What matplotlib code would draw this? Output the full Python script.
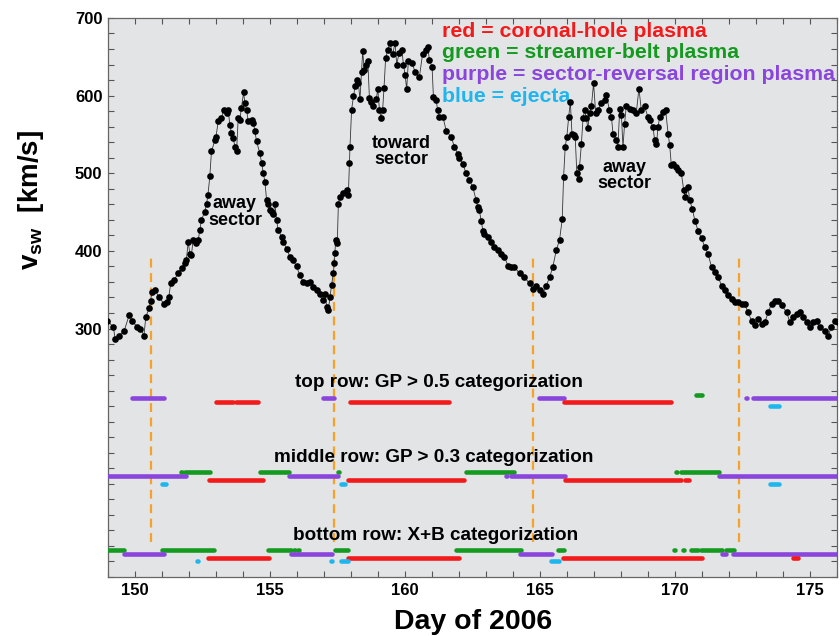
import matplotlib
matplotlib.use("Agg")
import matplotlib.pyplot as plt
from matplotlib.ticker import MultipleLocator, FixedLocator

plt.rcParams["font.family"] = ["Liberation Sans", "DejaVu Sans"]
plt.rcParams["font.weight"] = "bold"
plt.rcParams["mathtext.fontset"] = "custom"
plt.rcParams["mathtext.rm"] = "Liberation Sans:bold"
plt.rcParams["mathtext.bf"] = "Liberation Sans:bold"

RED = "#f21a1a"
GREEN = "#139a1f"
PURPLE = "#8a45dd"
BLUE = "#1fb6ee"
ORANGE = "#f6a229"
PANEL = "#e3e4e6"

# solar wind speed (day of 2006, km/s)
days = [
    148.97, 149.2, 149.26, 149.4, 149.6, 149.78, 149.9, 150.07, 150.2, 150.33,
    150.4, 150.52, 150.58, 150.62, 150.74, 150.89, 151.07, 151.2, 151.25, 151.32,
    151.45, 151.6, 151.75, 151.84, 151.9, 151.97, 152.03, 152.09, 152.15, 152.25,
    152.34, 152.4, 152.46, 152.58, 152.65, 152.7, 152.77, 152.83, 152.96, 153.0,
    153.08, 153.2, 153.29, 153.39, 153.45, 153.51, 153.57, 153.64, 153.7, 153.76,
    153.82, 153.88, 153.94, 154.02, 154.07, 154.13, 154.19, 154.32, 154.38, 154.44,
    154.5, 154.62, 154.69, 154.75, 154.81, 154.87, 154.93, 155.0, 155.06, 155.12,
    155.18, 155.24, 155.3, 155.43, 155.49, 155.61, 155.74, 155.86, 155.98, 156.1,
    156.23, 156.35, 156.48, 156.6, 156.73, 156.85, 156.97, 157.03, 157.1, 157.16,
    157.22, 157.28, 157.34, 157.38, 157.4, 157.43, 157.49, 157.53, 157.59, 157.71,
    157.84, 157.9, 157.94, 157.96, 158.02, 158.09, 158.15, 158.21, 158.27, 158.33,
    158.39, 158.43, 158.49, 158.55, 158.62, 158.68, 158.74, 158.83, 158.93, 158.99,
    159.05, 159.11, 159.17, 159.22, 159.28, 159.36, 159.44, 159.54, 159.63, 159.69,
    159.78, 159.88, 159.94, 160.0, 160.06, 160.12, 160.25, 160.37, 160.53, 160.65,
    160.78, 160.84, 160.9, 161.0, 161.05, 161.15, 161.21, 161.27, 161.4, 161.52,
    161.7, 161.83, 161.95, 162.01, 162.14, 162.26, 162.38, 162.51, 162.63, 162.69,
    162.75, 162.82, 162.88, 162.94, 163.06, 163.19, 163.31, 163.43, 163.56, 163.68,
    163.81, 163.93, 164.05, 164.24, 164.42, 164.61, 164.73, 164.86, 164.98, 165.1,
    165.23, 165.35, 165.47, 165.6, 165.72, 165.82, 165.87, 165.93, 165.99, 166.06,
    166.12, 166.18, 166.24, 166.3, 166.36, 166.43, 166.46, 166.53, 166.59, 166.65,
    166.71, 166.77, 166.83, 166.9, 166.98, 167.06, 167.14, 167.27, 167.39, 167.45,
    167.57, 167.64, 167.7, 167.82, 167.88, 167.95, 168.01, 168.07, 168.13, 168.19,
    168.32, 168.44, 168.56, 168.66, 168.75, 168.87, 168.99, 169.06, 169.18, 169.24,
    169.31, 169.37, 169.43, 169.55, 169.65, 169.74, 169.8, 169.86, 169.92, 170.02,
    170.11, 170.23, 170.32, 170.38, 170.48, 170.54, 170.64, 170.73, 170.85, 170.98,
    171.1, 171.22, 171.35, 171.47, 171.6, 171.72, 171.84, 171.96, 172.09, 172.21,
    172.33, 172.46, 172.58, 172.7, 172.83, 172.95, 173.07, 173.2, 173.32, 173.45,
    173.57, 173.69, 173.82, 173.94, 174.13, 174.25, 174.37, 174.5, 174.62, 174.74,
    174.87, 174.99, 175.11, 175.24, 175.36, 175.55, 175.67, 175.79, 175.92, 176.04,
]
speed = [
    310, 302, 287, 291, 297, 317, 310, 302, 300, 291,
    315, 326, 336, 347, 350, 340, 332, 334, 340, 358,
    362, 372, 378, 384, 388, 412, 396, 395, 414, 410,
    414, 427, 440, 450, 461, 472, 496, 528, 543, 547,
    567, 571, 582, 577, 582, 562, 552, 545, 534, 528,
    571, 569, 584, 604, 590, 582, 567, 569, 565, 554,
    541, 526, 513, 500, 489, 466, 461, 453, 450, 448,
    461, 440, 427, 418, 412, 403, 392, 388, 380, 369,
    360, 358, 360, 354, 349, 345, 337, 345, 328, 324,
    341, 356, 371, 384, 397, 414, 410, 461, 470, 474,
    478, 472, 513, 534, 582, 599, 612, 620, 616, 595,
    631, 657, 633, 640, 644, 597, 592, 586, 595, 608,
    582, 571, 582, 610, 648, 659, 668, 653, 668, 640,
    655, 659, 640, 627, 608, 644, 642, 631, 624, 654,
    659, 663, 646, 637, 598, 594, 581, 573, 573, 555,
    547, 534, 525, 519, 512, 500, 491, 482, 465, 457,
    452, 439, 426, 422, 418, 411, 405, 401, 396, 392,
    381, 379, 379, 371, 366, 358, 351, 355, 349, 345,
    355, 366, 379, 401, 414, 441, 495, 534, 547, 573,
    592, 551, 549, 547, 500, 493, 508, 538, 571, 581,
    571, 558, 577, 586, 616, 577, 581, 590, 594, 601,
    581, 573, 551, 543, 534, 583, 575, 534, 564, 586,
    583, 581, 577, 609, 581, 586, 573, 568, 560, 543,
    538, 560, 573, 579, 581, 551, 536, 510, 512, 508,
    504, 500, 478, 469, 482, 465, 454, 439, 426, 416,
    405, 396, 379, 373, 366, 355, 349, 343, 338, 334,
    334, 332, 331, 321, 310, 304, 312, 306, 308, 321,
    332, 336, 336, 330, 321, 308, 315, 319, 321, 315,
    308, 302, 308, 310, 302, 297, 291, 302, 310, 308,
]

# sector boundaries (dashed lines)
boundary_days = [150.6, 157.37, 164.75, 172.35]

# plasma categorization intervals (start day, end day)
top_green = [(170.79, 171.01)]
top_purple = [(149.9, 151.07), (156.95, 157.35), (164.95, 165.87),
              (172.62, 172.66), (172.9, 175.98)]
top_red = [(152.99, 153.61), (153.73, 154.54), (157.96, 161.64), (165.87, 169.86)]
top_blue = [(173.51, 173.86)]

mid_green = [(151.7, 151.74), (151.85, 152.77), (154.62, 155.71), (157.5, 157.54),
             (162.27, 162.31), (162.38, 164.05), (170.03, 170.07), (170.23, 171.63)]
mid_purple = [(148.94, 151.9), (155.69, 157.5), (163.72, 163.76), (163.93, 165.91),
              (171.63, 176.08)]
mid_red = [(152.74, 154.75), (157.87, 162.2), (165.91, 170.23), (170.36, 170.52)]
mid_blue = [(151.01, 151.16), (157.63, 157.79), (173.51, 173.86)]

bot_green = [(148.94, 149.59), (151.01, 152.93), (154.91, 155.77), (155.88, 155.92),
             (156.03, 156.07), (157.42, 157.87), (161.87, 164.3), (165.66, 165.87),
             (169.97, 170.01), (170.28, 170.32), (170.6, 170.85), (170.97, 171.75),
             (171.9, 172.17)]
bot_purple = [(149.59, 151.07), (155.77, 157.28), (164.24, 165.45), (171.72, 171.9),
              (172.15, 176.08)]
bot_red = [(152.72, 154.97), (157.87, 161.99), (165.85, 171.01), (174.37, 174.56)]
bot_blue = [(152.29, 152.33), (157.27, 157.31), (157.63, 157.87), (165.41, 165.7)]

rows = [
    (200, top_green, top_purple, top_red, top_blue),
    (100, mid_green, mid_purple, mid_red, mid_blue),
    (0, bot_green, bot_purple, bot_red, bot_blue),
]

fig = plt.figure(figsize=(8.4, 6.36), dpi=100)
ax = fig.add_axes([0.1286, 0.0928, 0.868, 0.879], facecolor=PANEL)

ax.plot(days, speed, color="#333333", lw=0.6, zorder=3)
ax.plot(days, speed, "o", color="black", ms=4.8, mec="none", zorder=4)

for x in boundary_days:
    ax.plot([x, x], [25, 395], color=ORANGE, lw=1.6, ls=(0, (4, 2.5)), zorder=2)

for base, green, purple, red, blue in rows:
    for segs, col, off in [(green, GREEN, 15), (purple, PURPLE, 10),
                           (red, RED, 5), (blue, BLUE, 0)]:
        starts = [s for s, e in segs]
        ends = [e for s, e in segs]
        ax.hlines([base + off] * len(segs), starts, ends, colors=col,
                  lw=3.3, capstyle="round", zorder=3)

# labels in the plot
legend_lines = [
    (676, "red = coronal-hole plasma", RED),
    (648, "green = streamer-belt plasma", GREEN),
    (620, "purple = sector-reversal region plasma", PURPLE),
    (592, "blue = ejecta", BLUE),
]
for yv, txt, col in legend_lines:
    ax.text(161.38, yv, txt, color=col, fontsize=15.3, fontweight="bold",
            va="baseline", clip_on=False)

ax.text(153.7, 450, "away\nsector", ha="center", va="center", fontsize=13,
        fontweight="bold", linespacing=0.95)
ax.text(159.86, 528, "toward\nsector", ha="center", va="center", fontsize=13,
        fontweight="bold", linespacing=0.95)
ax.text(168.13, 497, "away\nsector", ha="center", va="center", fontsize=13,
        fontweight="bold", linespacing=0.95)

ax.text(161.25, 231, "top row: GP > 0.5 categorization", ha="center", va="center",
        fontsize=13.6, fontweight="bold")
ax.text(161.05, 134, "middle row: GP > 0.3 categorization", ha="center", va="center",
        fontsize=13.6, fontweight="bold")
ax.text(161.12, 33, "bottom row: X+B categorization", ha="center", va="center",
        fontsize=13.6, fontweight="bold")

ax.set_xlim(149, 176)
ax.set_ylim(-20, 700)
ax.xaxis.set_major_locator(MultipleLocator(5))
ax.xaxis.set_minor_locator(MultipleLocator(1))
ax.yaxis.set_major_locator(FixedLocator([300, 400, 500, 600, 700]))
ax.yaxis.set_minor_locator(MultipleLocator(20))
ax.tick_params(which="both", direction="in", top=True, right=True,
               length=4, width=0.8, color="#555555")
ax.tick_params(labelsize=12, pad=4)
for lab in ax.get_xticklabels() + ax.get_yticklabels():
    lab.set_fontweight("bold")
for sp in ax.spines.values():
    sp.set_color("#666666")
    sp.set_linewidth(0.9)

ax.set_xlabel("Day of 2006", fontsize=20.5, fontweight="bold", labelpad=8)
fig.text(0.037, 0.686, r"$\mathbf{v}_{\mathbf{sw}}$  [km/s]", rotation=90,
         ha="center", va="center", fontsize=20, fontweight="bold")

fig.savefig("out.png", dpi=100)
